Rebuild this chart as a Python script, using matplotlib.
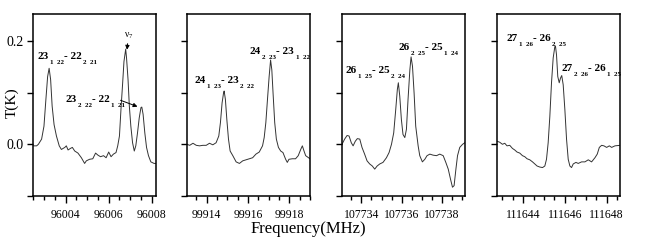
import matplotlib
matplotlib.use('Agg')
import matplotlib.pyplot as plt
from matplotlib.ticker import MultipleLocator, FormatStrFormatter

plt.rcParams['font.family'] = ['Liberation Serif', 'DejaVu Serif']
plt.rcParams['mathtext.fontset'] = 'custom'
plt.rcParams['mathtext.rm'] = 'Liberation Serif'
plt.rcParams['mathtext.it'] = 'Liberation Serif:italic'
plt.rcParams['mathtext.bf'] = 'Liberation Serif:bold'
plt.rcParams['mathtext.default'] = 'regular'

# spectra
f1 = [96002.48, 96002.65, 96002.73, 96002.88, 96002.99, 96003.08, 96003.16, 96003.23, 96003.30,
      96003.37, 96003.46, 96003.57, 96003.70, 96003.80, 96003.96, 96004.03, 96004.11, 96004.22,
      96004.31, 96004.42, 96004.57, 96004.73, 96004.88, 96004.96, 96005.11, 96005.26, 96005.39,
      96005.50, 96005.62, 96005.76, 96005.88, 96006.00, 96006.11, 96006.22, 96006.34, 96006.42,
      96006.50, 96006.57, 96006.65, 96006.71, 96006.79, 96006.83, 96006.90, 96006.96, 96007.03,
      96007.11, 96007.19, 96007.26, 96007.34, 96007.42, 96007.50, 96007.54, 96007.60, 96007.68,
      96007.76, 96007.85, 96007.96, 96008.11, 96008.19]
t1 = [-0.003, -0.003, 0.000, 0.010, 0.035, 0.087, 0.131, 0.147, 0.125,
      0.074, 0.038, 0.016, -0.003, -0.010, -0.006, -0.003, -0.011, -0.008,
      -0.006, -0.013, -0.017, -0.026, -0.037, -0.032, -0.029, -0.028, -0.017,
      -0.021, -0.024, -0.022, -0.026, -0.015, -0.024, -0.019, -0.016, -0.003,
      0.016, 0.067, 0.119, 0.160, 0.184, 0.167, 0.125, 0.074, 0.035,
      0.003, -0.013, -0.003, 0.022, 0.051, 0.071, 0.072, 0.058, 0.022,
      -0.006, -0.022, -0.034, -0.037, -0.037]

f2 = [99913.04, 99913.17, 99913.33, 99913.49, 99913.65, 99913.81, 99913.97, 99914.13, 99914.29,
      99914.45, 99914.58, 99914.66, 99914.74, 99914.81, 99914.84, 99914.90, 99914.97, 99915.05,
      99915.13, 99915.26, 99915.42, 99915.58, 99915.74, 99915.90, 99916.06, 99916.22, 99916.38,
      99916.54, 99916.70, 99916.78, 99916.86, 99916.94, 99917.02, 99917.09, 99917.15, 99917.21,
      99917.29, 99917.37, 99917.47, 99917.58, 99917.69, 99917.82, 99917.90, 99917.98, 99918.14,
      99918.30, 99918.43, 99918.55, 99918.63, 99918.71, 99918.79, 99919.00]
t2 = [0.000, -0.002, 0.002, -0.002, -0.003, -0.002, -0.002, 0.002, -0.001,
      0.003, 0.016, 0.042, 0.080, 0.099, 0.103, 0.087, 0.048, 0.010,
      -0.013, -0.022, -0.034, -0.037, -0.032, -0.030, -0.028, -0.026, -0.019,
      -0.015, -0.003, 0.013, 0.042, 0.087, 0.131, 0.163, 0.144, 0.099,
      0.042, 0.010, -0.006, -0.013, -0.016, -0.029, -0.035, -0.029, -0.028,
      -0.028, -0.022, -0.010, -0.003, -0.013, -0.022, -0.028]

f3 = [107733.04, 107733.17, 107733.29, 107733.39, 107733.50, 107733.59, 107733.70, 107733.80,
      107733.92, 107734.03, 107734.16, 107734.28, 107734.41, 107734.54, 107734.66, 107734.78,
      107734.91, 107735.07, 107735.24, 107735.37, 107735.49, 107735.60, 107735.70, 107735.78,
      107735.83, 107735.90, 107735.98, 107736.06, 107736.15, 107736.23, 107736.31, 107736.40,
      107736.46, 107736.53, 107736.61, 107736.69, 107736.81, 107736.89, 107737.02, 107737.14,
      107737.25, 107737.39, 107737.55, 107737.72, 107737.88, 107738.05, 107738.18, 107738.30,
      107738.41, 107738.51, 107738.59, 107738.68, 107738.76, 107738.87, 107739.01, 107739.12]
t3 = [0.000, 0.010, 0.017, 0.016, 0.003, -0.003, 0.006, 0.011,
      0.010, -0.006, -0.019, -0.032, -0.038, -0.042, -0.048, -0.042,
      -0.038, -0.035, -0.026, -0.016, 0.000, 0.022, 0.067, 0.106,
      0.119, 0.093, 0.048, 0.019, 0.013, 0.029, 0.087, 0.144,
      0.169, 0.151, 0.099, 0.035, -0.003, -0.022, -0.034, -0.029,
      -0.022, -0.019, -0.021, -0.022, -0.019, -0.022, -0.035, -0.048,
      -0.067, -0.083, -0.080, -0.048, -0.022, -0.006, 0.000, 0.003]

f4 = [111642.75, 111642.88, 111643.01, 111643.12, 111643.23, 111643.36, 111643.49, 111643.60,
      111643.71, 111643.84, 111643.97, 111644.08, 111644.19, 111644.32, 111644.45, 111644.56,
      111644.67, 111644.80, 111644.93, 111645.04, 111645.12, 111645.20, 111645.28, 111645.36,
      111645.44, 111645.52, 111645.55, 111645.60, 111645.66, 111645.73, 111645.79, 111645.85,
      111645.92, 111646.00, 111646.08, 111646.16, 111646.24, 111646.32, 111646.40, 111646.53,
      111646.64, 111646.80, 111646.96, 111647.12, 111647.28, 111647.44, 111647.55, 111647.65,
      111647.76, 111647.87, 111648.00, 111648.13, 111648.24, 111648.40, 111648.64]
t4 = [0.006, 0.004, 0.000, 0.002, -0.003, -0.002, -0.008, -0.011,
      -0.015, -0.017, -0.022, -0.024, -0.028, -0.030, -0.034, -0.038,
      -0.042, -0.044, -0.045, -0.042, -0.029, 0.003, 0.054, 0.119,
      0.167, 0.189, 0.190, 0.173, 0.131, 0.119, 0.128, 0.133,
      0.115, 0.067, 0.010, -0.029, -0.042, -0.045, -0.038, -0.035,
      -0.037, -0.034, -0.034, -0.030, -0.034, -0.026, -0.019, -0.006,
      -0.002, -0.003, -0.006, -0.003, -0.006, -0.003, -0.002]

xlims = [(96002.48, 96008.2), (99913.04, 99919.0), (107733.04, 107739.13), (111642.75, 111648.64)]
xticks = [[96004, 96006, 96008], [99914, 99916, 99918],
          [107734, 107736, 107738], [111644, 111646, 111648]]

# transition labels: (J', Ka Kc', J'', Ka Kc'', x, y) in data coords
labels = [
    [('23', '1  22', '22', '2  21', 96002.67, 0.165),
     ('23', '2  22', '22', '1  21', 96003.97, 0.081)],
    [('24', '1  23', '23', '2  22', 99913.38, 0.119),
     ('24', '2  23', '23', '1  22', 99916.08, 0.175)],
    [('26', '1  25', '25', '2  24', 107733.22, 0.137),
     ('26', '2  25', '25', '1  24', 107735.85, 0.183)],
    [('27', '1  26', '26', '2  25', 111643.22, 0.199),
     ('27', '2  26', '26', '1  25', 111645.85, 0.141)],
]

freqs = [f1, f2, f3, f4]
temps = [t1, t2, t3, t4]


def put_label(ax, j1, k1, j2, k2, x, y, size=8, subsize=5):
    kw = dict(textcoords='offset points', fontweight='bold', va='baseline', ha='left')
    base = ax.text(x, y, j1, fontsize=size, fontweight='bold', va='baseline', ha='left')
    s1 = ax.annotate(k1, xy=(1, y), xycoords=(base, 'data'), xytext=(1, -3.5),
                     fontsize=subsize, **kw)
    m = ax.annotate('- ' + j2, xy=(1, y), xycoords=(s1, 'data'), xytext=(0, 0),
                    fontsize=size, **kw)
    ax.annotate(k2, xy=(1, y), xycoords=(m, 'data'), xytext=(1, -3.5),
                fontsize=subsize, **kw)


fig = plt.figure(figsize=(6.48, 2.42), dpi=100)
lefts = [33, 187, 342, 497]
for i in range(4):
    ax = fig.add_axes([lefts[i] / 648, 1 - 196 / 242, 123 / 648, 182 / 242])
    ax.plot(freqs[i], temps[i], color='#333333', lw=0.7)
    ax.set_xlim(*xlims[i])
    ax.set_ylim(-0.098, 0.252)
    ax.set_xticks(xticks[i])
    ax.xaxis.set_major_formatter(FormatStrFormatter('%d'))
    ax.xaxis.set_minor_locator(MultipleLocator(0.5))
    ax.set_yticks([-0.1, 0.0, 0.1, 0.2])
    if i == 0:
        ax.set_yticklabels(['', '0.0', '', '0.2'], fontsize=10)
    else:
        ax.set_yticklabels([])
    ax.tick_params(axis='x', which='major', direction='out', length=5, width=1, labelsize=8.5, pad=4)
    ax.tick_params(axis='x', which='minor', direction='out', length=3, width=1)
    ax.tick_params(axis='y', direction='out', length=4.5, width=1, pad=2)
    for s in ax.spines.values():
        s.set_linewidth(1.1)
    for lab in labels[i]:
        put_label(ax, *lab)
    if i == 0:
        ax.annotate('', xy=(96007.46, 0.071), xytext=(96006.43, 0.087),
                    arrowprops=dict(arrowstyle='-|>', color='black', lw=0.7, mutation_scale=6))
        ax.annotate('$\\nu_7$', xy=(96006.85, 0.183), xytext=(96006.92, 0.2),
                    fontsize=7, ha='center', va='bottom',
                    arrowprops=dict(arrowstyle='-|>', color='black', lw=0.7, mutation_scale=6,
                                    shrinkA=0, shrinkB=0))

fig.text(12 / 648, 1 - 103 / 242, 'T(K)', rotation=90, fontsize=11, ha='center', va='center')
fig.text(308 / 648, 1 - 233 / 242, 'Frequency(MHz)', fontsize=12, ha='center', va='baseline')

fig.savefig('out.png', dpi=100)
